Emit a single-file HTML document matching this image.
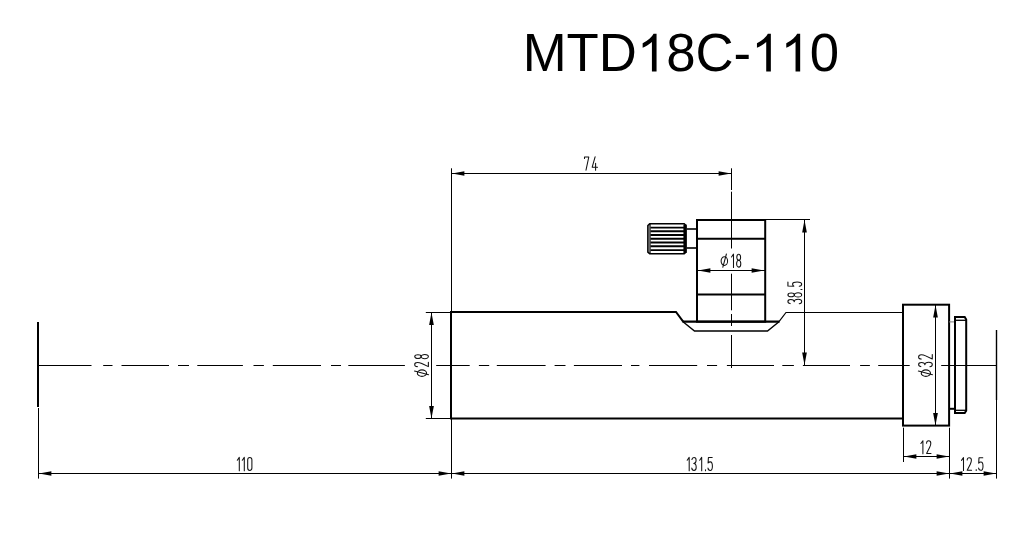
<!DOCTYPE html>
<html><head><meta charset="utf-8"><title>MTD18C-110</title>
<style>
html,body{margin:0;padding:0;background:#fff;}
body{width:1022px;height:543px;overflow:hidden;position:relative;font-family:"Liberation Sans",sans-serif;}
#title{position:absolute;left:522.7px;top:23.3px;font-size:52.73px;line-height:60px;color:#000;white-space:nowrap;letter-spacing:0px;font-kerning:none;font-feature-settings:"kern" 0;}
svg{position:absolute;left:0;top:0;}
.h{color:transparent;}
.t use{stroke:#111;stroke-width:1.05;fill:none;stroke-linecap:round;stroke-linejoin:round;}
</style></head><body>
<div id="title">MTD<span class="h">1</span>8C-<span class="h">11</span>0</div>
<svg width="1022" height="543" viewBox="0 0 1022 543" stroke="#000" fill="none">

<defs>
<g id="g0"><path d="M0.5,2.8 Q0.5,0.5 2.6,0.5 Q4.7,0.5 4.7,2.8 V11.2 Q4.7,13.5 2.6,13.5 Q0.5,13.5 0.5,11.2 Z"/></g>
<g id="g1"><path d="M0.9,3.3 L2.9,0.4 V13.8"/></g>
<g id="g2"><path d="M0.5,3 Q0.5,0.5 2.6,0.5 Q4.7,0.5 4.7,3 Q4.7,5 3.6,7.2 L0.5,13.5 H4.9"/></g>
<g id="g3"><path d="M0.5,2.6 Q0.7,0.5 2.6,0.5 Q4.7,0.5 4.7,3.2 Q4.7,6.4 2.3,6.5 Q4.8,6.6 4.8,10.2 Q4.8,13.5 2.6,13.5 Q0.6,13.5 0.4,11.2"/></g>
<g id="g4"><path d="M3.4,0.3 L0.5,10.8 H5.8 M3.9,6.8 V13.8"/></g>
<g id="g5"><path d="M4.6,0.5 H0.8 L0.5,6.1 Q1.4,4.9 2.7,4.9 Q4.8,4.9 4.8,9.2 Q4.8,13.5 2.6,13.5 Q0.6,13.5 0.4,11.2"/></g>
<g id="g7"><path d="M0.5,2 V0.5 H4.8 L2,13.8"/></g>
<g id="g8"><ellipse cx="2.6" cy="3.55" rx="1.9" ry="3.05"/><ellipse cx="2.6" cy="10.05" rx="2.1" ry="3.45"/></g>
<g id="gd"><path d="M0.6,12.8 V13.8"/></g>
<g id="gp"><ellipse cx="3.75" cy="7.4" rx="3.25" ry="4.4"/><path d="M5.8,0.3 L2.2,13.7"/></g>
</defs>
<g class="t">
<use href="#g1" transform="translate(236.4,457) scale(1,0.9929)"/>
<use href="#g1" transform="translate(241.4,457) scale(1,0.9929)"/>
<use href="#g0" transform="translate(247.2,457) scale(1,0.9929)"/>
<use href="#g7" transform="translate(584,156.5) scale(1,0.9929)"/>
<use href="#g4" transform="translate(591.7,156.5) scale(1,0.9929)"/>
<use href="#g1" transform="translate(686.3,457) scale(1,0.9929)"/>
<use href="#g3" transform="translate(691.4,457) scale(1,0.9929)"/>
<use href="#g1" transform="translate(698.8,457) scale(1,0.9929)"/>
<use href="#gd" transform="translate(704.9,457) scale(1,0.9929)"/>
<use href="#g5" transform="translate(707.6,457) scale(1,0.9929)"/>
<use href="#gp" transform="translate(720.6,253.7) scale(1,0.9929)"/>
<use href="#g1" transform="translate(730.6,253.7) scale(1,0.9929)"/>
<use href="#g8" transform="translate(736.1,253.7) scale(1,0.9929)"/>
<use href="#g1" transform="translate(920.0,440.3) scale(1,0.9714)"/>
<use href="#g2" transform="translate(926.1,440.3) scale(1,0.9714)"/>
<use href="#g1" transform="translate(960.6,457.2) scale(1,0.9714)"/>
<use href="#g2" transform="translate(966.7,457.2) scale(1,0.9714)"/>
<use href="#gd" transform="translate(975.6,457.2) scale(1,0.9714)"/>
<use href="#g5" transform="translate(978.2,457.2) scale(1,0.9714)"/>
<use href="#g3" transform="translate(787.4000000000001,304.1) rotate(-90) scale(1,1.0571)"/>
<use href="#g8" transform="translate(787.4000000000001,297.5) rotate(-90) scale(1,1.0571)"/>
<use href="#gd" transform="translate(787.4000000000001,290.1) rotate(-90) scale(1,1.0571)"/>
<use href="#g5" transform="translate(787.4000000000001,286.7) rotate(-90) scale(1,1.0571)"/>
<use href="#gp" transform="translate(414.2,376.9) rotate(-90) scale(1,1.0500)"/>
<use href="#g2" transform="translate(414.2,367.1) rotate(-90) scale(1,1.0500)"/>
<use href="#g8" transform="translate(414.2,359.2) rotate(-90) scale(1,1.0500)"/>
<use href="#gp" transform="translate(918.0999999999999,376.9) rotate(-90) scale(1,1.0500)"/>
<use href="#g3" transform="translate(918.0999999999999,367.1) rotate(-90) scale(1,1.0500)"/>
<use href="#g2" transform="translate(918.0999999999999,359.5) rotate(-90) scale(1,1.0500)"/>
</g>
<g>
<line x1="38.3" y1="365.5" x2="91.5" y2="365.5" stroke-width="1" />
<line x1="103.2" y1="365.5" x2="112.5" y2="365.5" stroke-width="1" />
<line x1="121.5" y1="365.5" x2="169" y2="365.5" stroke-width="1" />
<line x1="178" y1="365.5" x2="189" y2="365.5" stroke-width="1" />
<line x1="197.3" y1="365.5" x2="242.9" y2="365.5" stroke-width="1" />
<line x1="253.5" y1="365.5" x2="263.9" y2="365.5" stroke-width="1" />
<line x1="272.8" y1="365.5" x2="321" y2="365.5" stroke-width="1" />
<line x1="331" y1="365.5" x2="341" y2="365.5" stroke-width="1" />
<line x1="348.3" y1="365.5" x2="404.9" y2="365.5" stroke-width="1" />
<line x1="436.2" y1="365.5" x2="469.7" y2="365.5" stroke-width="1" />
<line x1="478.9" y1="365.5" x2="489.2" y2="365.5" stroke-width="1" />
<line x1="496.8" y1="365.5" x2="545.6" y2="365.5" stroke-width="1" />
<line x1="554.6" y1="365.5" x2="565.5" y2="365.5" stroke-width="1" />
<line x1="573.9" y1="365.5" x2="622" y2="365.5" stroke-width="1" />
<line x1="631" y1="365.5" x2="639.4" y2="365.5" stroke-width="1" />
<line x1="649" y1="365.5" x2="697.2" y2="365.5" stroke-width="1" />
<line x1="707" y1="365.5" x2="717.1" y2="365.5" stroke-width="1" />
<line x1="726.9" y1="365.5" x2="774" y2="365.5" stroke-width="1" />
<line x1="782.3" y1="365.5" x2="793.9" y2="365.5" stroke-width="1" />
<line x1="802.9" y1="365.5" x2="850" y2="365.5" stroke-width="1" />
<line x1="860.1" y1="365.5" x2="869.9" y2="365.5" stroke-width="1" />
<line x1="878.2" y1="365.5" x2="909.7" y2="365.5" stroke-width="1" />
<line x1="941.2" y1="365.5" x2="996.6" y2="365.5" stroke-width="1" />
<line x1="731.5" y1="168.3" x2="731.5" y2="190" stroke-width="1" />
<line x1="731.5" y1="191.7" x2="731.5" y2="248.5" stroke-width="1" />
<line x1="731.5" y1="273.7" x2="731.5" y2="310.3" stroke-width="1" />
<line x1="731.5" y1="314" x2="731.5" y2="326" stroke-width="1" />
<line x1="731.5" y1="335" x2="731.5" y2="368" stroke-width="1" />
<line x1="38" y1="322" x2="38" y2="407" stroke-width="2" />
<line x1="38.5" y1="408" x2="38.5" y2="478.6" stroke-width="1" />
<line x1="996.5" y1="330" x2="996.5" y2="400" stroke-width="1.4" />
<line x1="996.5" y1="400" x2="996.5" y2="478.6" stroke-width="1" />
<line x1="451.5" y1="168.3" x2="451.5" y2="312" stroke-width="1" />
<line x1="451.5" y1="419" x2="451.5" y2="478.6" stroke-width="1" />
<line x1="949.5" y1="427.7" x2="949.5" y2="478.6" stroke-width="1" />
<line x1="903.5" y1="427.7" x2="903.5" y2="462" stroke-width="1" />
<line x1="38.5" y1="473.5" x2="996.5" y2="473.5" stroke-width="1" />
<polygon points="39,473.5 51.4,471.15 51.4,475.85" fill="#000" stroke="none"/>
<polygon points="451,473.5 438.6,471.15 438.6,475.85" fill="#000" stroke="none"/>
<polygon points="452,473.5 464.4,471.15 464.4,475.85" fill="#000" stroke="none"/>
<polygon points="949,473.5 936.6,471.15 936.6,475.85" fill="#000" stroke="none"/>
<polygon points="950,473.5 962.4,471.15 962.4,475.85" fill="#000" stroke="none"/>
<polygon points="996,473.5 983.6,471.15 983.6,475.85" fill="#000" stroke="none"/>
<line x1="903.5" y1="456.5" x2="949.5" y2="456.5" stroke-width="1" />
<polygon points="904,456.5 916.4,454.15 916.4,458.85" fill="#000" stroke="none"/>
<polygon points="949,456.5 936.6,454.15 936.6,458.85" fill="#000" stroke="none"/>
<line x1="451.5" y1="173.5" x2="731.5" y2="173.5" stroke-width="1" />
<polygon points="452,173.5 464.4,171.15 464.4,175.85" fill="#000" stroke="none"/>
<polygon points="731,173.5 718.6,171.15 718.6,175.85" fill="#000" stroke="none"/>
<line x1="425.8" y1="312.5" x2="451" y2="312.5" stroke-width="1" />
<line x1="425.8" y1="418.5" x2="451" y2="418.5" stroke-width="1" />
<line x1="431.5" y1="312" x2="431.5" y2="419" stroke-width="1" />
<polygon points="431.5,312.5 429.15,324.9 433.85,324.9" fill="#000" stroke="none"/>
<polygon points="431.5,418.5 429.15,406.1 433.85,406.1" fill="#000" stroke="none"/>
<line x1="697" y1="270.5" x2="765" y2="270.5" stroke-width="1" />
<polygon points="698,270.5 710.4,268.15 710.4,272.85" fill="#000" stroke="none"/>
<polygon points="764,270.5 751.6,268.15 751.6,272.85" fill="#000" stroke="none"/>
<line x1="766" y1="219.5" x2="810" y2="219.5" stroke-width="1" />
<line x1="804.5" y1="220" x2="804.5" y2="365.5" stroke-width="1" />
<polygon points="804.5,220 802.15,232.4 806.85,232.4" fill="#000" stroke="none"/>
<polygon points="804.5,365 802.15,352.6 806.85,352.6" fill="#000" stroke="none"/>
<line x1="935.5" y1="305" x2="935.5" y2="425" stroke-width="1" />
<polygon points="935.5,305 933.15,317.4 937.85,317.4" fill="#000" stroke="none"/>
<polygon points="935.5,425.5 933.15,413.1 937.85,413.1" fill="#000" stroke="none"/>
<polyline points="683.2,321.7 676,312 451,312 451,418.6 903,418.6" stroke-width="2" fill="none"/>
<polyline points="903,312.5 786,312.5 779,321.7" stroke-width="1.2" fill="none"/>
<line x1="682.5" y1="321.7" x2="779.5" y2="321.7" stroke-width="2.2" />
<rect x="697" y="220" width="68.2" height="101.7" stroke-width="2" fill="none"/>
<line x1="697" y1="238.8" x2="765" y2="238.8" stroke-width="2" />
<line x1="697" y1="294.6" x2="765" y2="294.6" stroke-width="2" />
<polyline points="683,321.7 694.5,331 767.5,331 779,321.7" stroke-width="1.4" fill="none"/>
<path d="M649.7,223.8 H684.2 L685.9,225.5 V252.1 L684.2,253.8 H649.7 L647.9,252.1 V225.5 Z" stroke-width="1.6" fill="none"/>
<line x1="650.5" y1="227.6" x2="684" y2="227.6" stroke-width="1.9" />
<line x1="650.5" y1="231.3" x2="684" y2="231.3" stroke-width="1.9" />
<line x1="650.5" y1="235" x2="684" y2="235" stroke-width="1.9" />
<line x1="650.5" y1="238.7" x2="684" y2="238.7" stroke-width="1.9" />
<line x1="650.5" y1="242.5" x2="684" y2="242.5" stroke-width="1.9" />
<line x1="650.5" y1="246.3" x2="684" y2="246.3" stroke-width="1.9" />
<line x1="650.5" y1="250.1" x2="684" y2="250.1" stroke-width="1.9" />
<line x1="650" y1="224" x2="650" y2="253.6" stroke-width="1.2" />
<line x1="685" y1="224.5" x2="685" y2="253" stroke-width="3.2" />
<line x1="686.7" y1="229" x2="697" y2="229" stroke-width="1.6" />
<line x1="686.7" y1="248" x2="697" y2="248" stroke-width="1.6" />
<rect x="903" y="304.7" width="46.1" height="120.9" stroke-width="2" fill="none"/>
<line x1="949" y1="321.9" x2="955" y2="321.9" stroke-width="1" stroke="#777"/>
<line x1="949" y1="408.8" x2="955" y2="408.8" stroke-width="2" />
<path d="M955,317 H964.7 L966.2,319.5 V410.7 L964.7,413 H955 Z" stroke-width="2" fill="none"/>
<line x1="955" y1="320.3" x2="966" y2="320.3" stroke-width="1.3" />
<line x1="955" y1="410.3" x2="966" y2="410.3" stroke-width="1.3" />
<path d="M763 0H583V1147Q518 1085 412.5 1023T223 930V1104Q374 1175 487 1276T647 1472H763V0Z" transform="translate(636.91,71.6) scale(0.025747,-0.025747)" fill="#000" stroke="none"/>
<path d="M763 0H583V1147Q518 1085 412.5 1023T223 930V1104Q374 1175 487 1276T647 1472H763V0Z" transform="translate(751.21,71.6) scale(0.025747,-0.025747)" fill="#000" stroke="none"/>
<path d="M763 0H583V1147Q518 1085 412.5 1023T223 930V1104Q374 1175 487 1276T647 1472H763V0Z" transform="translate(780.53,71.6) scale(0.025747,-0.025747)" fill="#000" stroke="none"/>
</g>
</svg>
</body></html>
